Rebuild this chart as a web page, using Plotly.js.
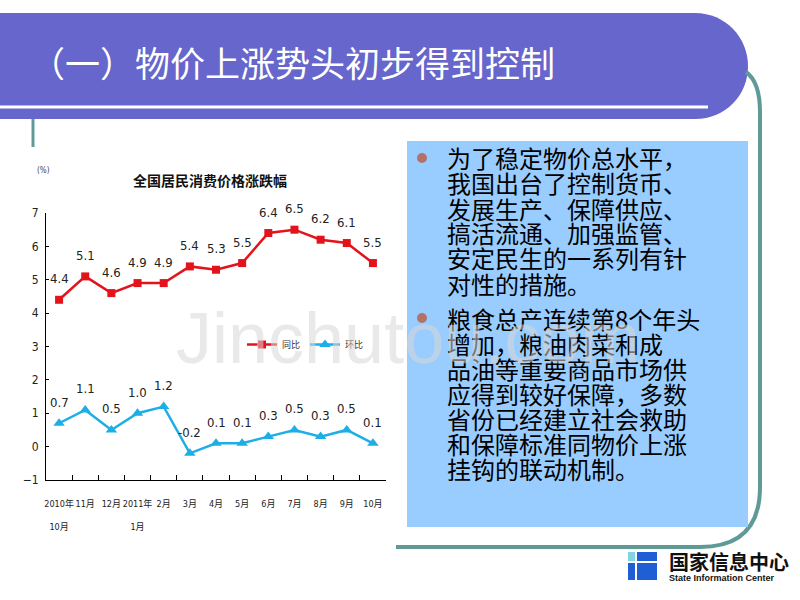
<!DOCTYPE html>
<html>
<head>
<meta charset="utf-8">
<script src="https://cdn.plot.ly/plotly-3.0.1.min.js"></script>
<style>html,body{margin:0;padding:0;background:#fff;}#chart{width:800px;height:600px;}</style>
</head>
<body>
<div id="chart"></div>
<script>
// ---- data ----
const categories = ["2010年<br> <br>10月","11月","12月","2011年<br> <br>1月","2月","3月","4月","5月","6月","7月","8月","9月","10月"];
const yoy = [4.4,5.1,4.6,4.9,4.9,5.4,5.3,5.5,6.4,6.5,6.2,6.1,5.5];
const mom = [0.7,1.1,0.5,1.0,1.2,-0.2,0.1,0.1,0.3,0.5,0.3,0.5,0.1];
const seriesNames = ["同比","环比"];
const chartTitle = "全国居民消费价格涨跌幅";
const unitLabel = "(%)";
const slideTitle = "（一）物价上涨势头初步得到控制";
const para1 = ["为了稳定物价总水平，","我国出台了控制货币、","发展生产、保障供应、","搞活流通、加强监管、","安定民生的一系列有针","对性的措施。"];
const para2 = ["粮食总产连续第8个年头","增加，粮油肉菜和成","品油等重要商品市场供","应得到较好保障，多数","省份已经建立社会救助","和保障标准同物价上涨","挂钩的联动机制。"];

// ---- helpers: pixel -> paper ----
const W = 800, H = 600;
const X = p => p / W;
const Y = p => 1 - p / H;
const pt = (x, y) => X(x).toFixed(5) + "," + Y(y).toFixed(5);

const narrow = "Liberation Sans Narrow, DejaVu Sans Condensed, Noto Sans CJK SC, sans-serif";
const cjk = "Noto Sans CJK SC, sans-serif";
const RED = "#e3131b", CYAN = "#1eaee6", TEAL = "#5f9a97";

const traces = [
  {x: categories, y: yoy, name: seriesNames[0], type: "scatter", mode: "lines+markers",
   line: {color: RED, width: 2.5}, marker: {symbol: "square", size: 8, color: RED}},
  {x: categories, y: mom, name: seriesNames[1], type: "scatter", mode: "lines+markers",
   line: {color: CYAN, width: 2.5}, marker: {symbol: "triangle-up", size: 10, color: CYAN}}
];

const shapes = [
  // banner
  {type: "path", xref: "paper", yref: "paper", layer: "below",
   path: "M" + pt(0,13) + " L" + pt(695,13) + " C" + pt(726,13) + " " + pt(748,38) + " " + pt(748,66) +
         " C" + pt(748,95) + " " + pt(726,119) + " " + pt(695,119) + " L" + pt(0,119) + " Z",
   fillcolor: "#6666cc", line: {width: 0}},
  {type: "rect", xref: "paper", yref: "paper", layer: "below",
   x0: X(0), x1: X(708), y0: Y(105.5), y1: Y(108.5), fillcolor: "#ffffff", line: {width: 0}},
  // teal lines
  {type: "line", xref: "paper", yref: "paper", layer: "below",
   x0: X(33), x1: X(33), y0: Y(119), y1: Y(147), line: {color: TEAL, width: 3}},
  {type: "path", xref: "paper", yref: "paper", layer: "below",
   path: "M" + pt(746,72) + " Q" + pt(760,82) + " " + pt(760,112) + " L" + pt(760,487) +
         " Q" + pt(760,547) + " " + pt(700,547) + " L" + pt(396,547),
   line: {color: TEAL, width: 4}},
  // text box
  {type: "rect", xref: "paper", yref: "paper", layer: "below",
   x0: X(407), x1: X(748), y0: Y(141), y1: Y(527), fillcolor: "#99ccff", line: {width: 0}},
  // bullets
  {type: "circle", xref: "paper", yref: "paper", layer: "below",
   x0: X(417), x1: X(427), y0: Y(153), y1: Y(163), fillcolor: "#b4716a", line: {width: 0}},
  {type: "circle", xref: "paper", yref: "paper", layer: "below",
   x0: X(417), x1: X(427), y0: Y(313), y1: Y(323), fillcolor: "#b4716a", line: {width: 0}},
  // logo
  {type: "rect", xref: "paper", yref: "paper", layer: "below",
   x0: X(628), x1: X(635), y0: Y(552), y1: Y(561), fillcolor: "#7fd6e2", line: {width: 0}},
  {type: "rect", xref: "paper", yref: "paper", layer: "below",
   x0: X(637), x1: X(657), y0: Y(552), y1: Y(561), fillcolor: "#1f5fd6", line: {width: 0}},
  {type: "rect", xref: "paper", yref: "paper", layer: "below",
   x0: X(628), x1: X(635), y0: Y(563), y1: Y(580), fillcolor: "#1f5fd6", line: {width: 0}},
  {type: "rect", xref: "paper", yref: "paper", layer: "below",
   x0: X(637), x1: X(657), y0: Y(563), y1: Y(580), fillcolor: "#1f5fd6", line: {width: 0}}
];

const annotations = [];
// slide title
annotations.push({xref: "paper", yref: "paper", x: X(28), y: Y(62), xanchor: "left", yanchor: "middle",
  text: slideTitle, showarrow: false, font: {family: cjk, size: 35, color: "#ffffff"}});
// chart title & unit
annotations.push({xref: "paper", yref: "paper", x: X(210), y: Y(180), xanchor: "center", yanchor: "middle",
  text: "<b>" + chartTitle + "</b>", showarrow: false, font: {family: cjk, size: 14, color: "#111111"}});
annotations.push({xref: "paper", yref: "paper", x: X(43), y: Y(170), xanchor: "center", yanchor: "middle",
  text: unitLabel, showarrow: false, font: {family: narrow, size: 8, color: "#444444"}});
// data labels
yoy.forEach((v, i) => annotations.push({x: i, y: v, xref: "x", yref: "y", yshift: 21, showarrow: false,
  text: v.toFixed(1), font: {family: narrow, size: 13, color: "#222222"}}));
mom.forEach((v, i) => annotations.push({x: i, y: v, xref: "x", yref: "y", yshift: 21, showarrow: false,
  text: v.toFixed(1), font: {family: narrow, size: 13, color: "#222222"}}));
// paragraph text
para1.forEach((t, i) => annotations.push({xref: "paper", yref: "paper", x: X(445), y: Y(158 + 25 * i),
  xanchor: "left", yanchor: "middle", text: t, showarrow: false, font: {family: cjk, size: 24, color: "#000000"}}));
para2.forEach((t, i) => annotations.push({xref: "paper", yref: "paper", x: X(445), y: Y(318 + 25 * i),
  xanchor: "left", yanchor: "middle", text: t, showarrow: false, font: {family: cjk, size: 24, color: "#000000"}}));
// logo text
annotations.push({xref: "paper", yref: "paper", x: X(667), y: Y(561), xanchor: "left", yanchor: "middle",
  text: "<b>国家信息中心</b>", showarrow: false, font: {family: cjk, size: 20, color: "#111111"}});
annotations.push({xref: "paper", yref: "paper", x: X(667), y: Y(578), xanchor: "left", yanchor: "middle",
  text: "<b>State Information Center</b>", showarrow: false, font: {family: "Liberation Sans, Arial, sans-serif", size: 9, color: "#111111"}});
// watermark
annotations.push({xref: "paper", yref: "paper", x: X(408), y: Y(338), xanchor: "center", yanchor: "middle",
  text: "Jinchutou.com", showarrow: false, font: {family: "Liberation Sans, Arial, sans-serif", size: 72, color: "rgba(215,215,215,0.55)"}});

const layout = {
  width: W, height: H,
  margin: {l: 0, r: 0, t: 0, b: 0, pad: 0},
  paper_bgcolor: "#ffffff", plot_bgcolor: "rgba(0,0,0,0)",
  showlegend: true,
  legend: {orientation: "h", x: X(242), y: Y(330), xanchor: "left", yanchor: "top",
    bgcolor: "rgba(0,0,0,0)", font: {family: narrow, size: 9, color: "#333333"}, itemwidth: 30, tracegroupgap: 0},
  xaxis: {type: "category", domain: [X(46), X(386)], range: [-0.5, 12.5], showline: true, linecolor: "#000000",
    linewidth: 1, ticks: "inside", ticklen: 5, tickcolor: "#000000", tickson: "boundaries", showgrid: false,
    zeroline: false, tickangle: 0, tickfont: {family: narrow, size: 9, color: "#222222"}, ticklabelstandoff: 15, fixedrange: true},
  yaxis: {domain: [Y(480), Y(213)], range: [-1, 7], dtick: 1, showline: true, linecolor: "#000000", linewidth: 1,
    ticks: "inside", ticklen: 3, tickcolor: "#000000", showgrid: false, zeroline: false,
    tickfont: {family: narrow, size: 12, color: "#222222"}, ticklabelstandoff: 4, fixedrange: true},
  shapes: shapes,
  annotations: annotations
};

Plotly.newPlot("chart", traces, layout, {displayModeBar: false, staticPlot: true});
</script>
</body>
</html>
